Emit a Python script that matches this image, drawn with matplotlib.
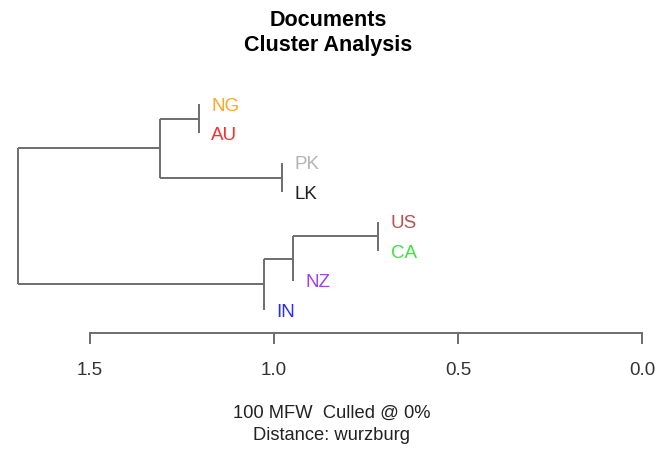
import matplotlib
matplotlib.use("Agg")
import matplotlib.pyplot as plt

plt.rcParams['font.family'] = ['Liberation Sans', 'DejaVu Sans']

# ---- data ----
leaves = ["NG", "AU", "PK", "LK", "US", "CA", "NZ", "IN"]
leaf_colors = ["#FFA824", "#FF2A2A", "#B4B4B4", "#202020",
               "#B85050", "#40E040", "#A040F0", "#2A2AFF"]
# merges: (left child, right child, height); children are leaf names or merge indices (int)
merges = [
    ("NG", "AU", 1.204),   # 0
    ("PK", "LK", 0.978),   # 1
    ("US", "CA", 0.717),   # 2
    (2, "NZ", 0.948),      # 3
    (3, "IN", 1.027),      # 4
    (0, 1, 1.310),         # 5
    (5, 4, 1.696),         # 6
]
tick_values = [1.5, 1.0, 0.5, 0.0]
tick_labels = ["1.5", "1.0", "0.5", "0.0"]
title = "Documents\nCluster Analysis"
subtitle = "100 MFW  Culled @ 0%\nDistance: wurzburg"

W, H = 656, 450
fig = plt.figure(figsize=(W / 100, H / 100), dpi=100)
# axes: full width, from y pixel 80 to 333
ax = fig.add_axes([0, (H - 333) / H, 1, (333 - 80) / H])
ax.set_xlim(1.7446, -0.038)
ax.set_ylim(8.78, 0.185)

line_kw = dict(color="#6E6E6E", lw=1.4, solid_capstyle="butt")
leaf_pos = {name: i + 1 for i, name in enumerate(leaves)}
node_pos = {}

def pos(c):
    return leaf_pos[c] if isinstance(c, str) else node_pos[c]

def height(c):
    return None if isinstance(c, str) else merges[c][2]

for idx, (a, b, h) in enumerate(merges):
    ya, yb = pos(a), pos(b)
    ax.plot([h, h], [ya, yb], **line_kw)
    for c, yc in ((a, ya), (b, yb)):
        hc = height(c)
        if hc is not None:
            ax.plot([h, hc], [yc, yc], **line_kw)
        else:
            i = leaves.index(c)
            ax.annotate(c, (h, yc), xytext=(9, -1.5), textcoords="offset points",
                        ha="left", va="center", fontsize=13.5,
                        color=leaf_colors[i])
    node_pos[idx] = (ya + yb) / 2

for s in ["top", "left", "right"]:
    ax.spines[s].set_visible(False)
ax.spines["bottom"].set_bounds(min(tick_values), max(tick_values))
ax.spines["bottom"].set_color("#6E6E6E")
ax.spines["bottom"].set_linewidth(1.4)
ax.set_yticks([])
ax.set_xticks(tick_values)
ax.set_xticklabels(tick_labels, fontsize=13.5, color="#333333")
ax.tick_params(axis="x", length=8, width=1.4, color="#6E6E6E", pad=13)
ax.patch.set_alpha(0)

fig.text(0.5, 1 - 33 / H, title, ha="center", va="center",
         fontsize=15.5, fontweight="bold", linespacing=1.25)
fig.text(0.505, 1 - 424 / H, subtitle, ha="center", va="center",
         fontsize=13.2, color="#222222", linespacing=1.4)

fig.savefig("out.png", dpi=100)
